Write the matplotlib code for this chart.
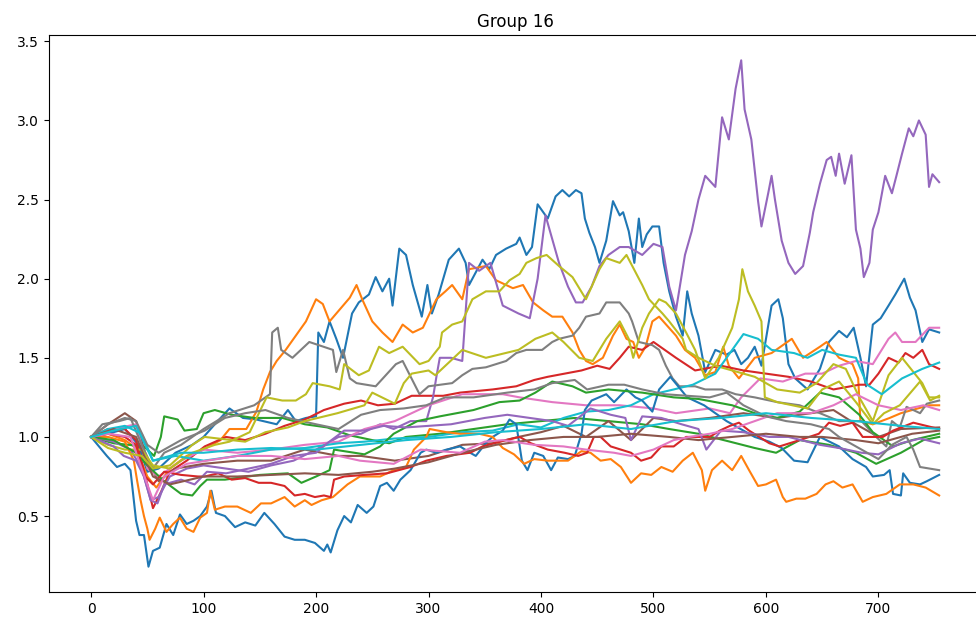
import numpy as np
import matplotlib
matplotlib.use("Agg")
import matplotlib.pyplot as plt

# (day, value) pairs, one list per series
blue_hi = [(0,1.0),(15,1.02),(30,1.05),(42,0.95),(50,0.78),(60,0.8),(75,0.9),(90,0.95),(100,1.0),(110,1.08),(123,1.18),(135,1.12),(147,1.11),(165,1.08),(175,1.17),(182,1.1),(191,1.12),(200,1.13),(202,1.66),(207,1.6),(212,1.73),(218,1.62),(224,1.5),(232,1.78),(238,1.85),(247,1.9),(253,2.01),(259,1.92),(265,2.0),(268,1.83),(274,2.19),(280,2.15),(286,1.96),(294,1.76),(299,1.96),(303,1.78),(309,1.9),(318,2.12),(327,2.19),(333,2.1),(336,1.96),(348,2.12),(354,2.06),(360,2.15),(369,2.19),(378,2.22),(381,2.26),(387,2.15),(392,2.2),(397,2.47),(406,2.38),(413,2.52),(419,2.56),(425,2.52),(431,2.56),(436,2.54),(439,2.38),(443,2.29),(448,2.2),(452,2.1),(458,2.24),(464,2.49),(470,2.4),(473,2.42),(478,2.3),(483,2.1),(487,2.38),(490,2.2),(494,2.28),(499,2.33),(505,2.33),(509,2.1),(514,1.92),(520,1.76),(526,1.64),(530,1.92),(534,1.78),(540,1.64),(546,1.41),(555,1.55),(565,1.52),(572,1.55),(578,1.46),(584,1.5),(590,1.57),(596,1.45),(605,1.83),(611,1.87),(615,1.75),(620,1.46),(626,1.37),(637,1.3),(648,1.43),(656,1.6),(665,1.67),(672,1.63),(678,1.69),(684,1.5),(689,1.32),(695,1.71),(702,1.75),(709,1.83),(715,1.9),(723,2.0),(728,1.88),(733,1.8),(739,1.6),(745,1.68),(754,1.66)]
orange_hi = [(0,1.0),(15,1.02),(30,0.98),(40,0.93),(50,0.75),(58,0.68),(70,0.8),(85,0.88),(100,0.92),(115,0.98),(123,1.05),(138,1.05),(147,1.16),(153,1.3),(159,1.41),(165,1.48),(173,1.55),(182,1.64),(191,1.73),(200,1.87),(206,1.84),(212,1.73),(224,1.83),(230,1.88),(236,1.96),(241,1.87),(250,1.73),(259,1.66),(268,1.6),(277,1.71),(286,1.66),(295,1.69),(301,1.78),(307,1.87),(315,1.92),(321,1.96),(330,1.87),(336,2.06),(351,2.08),(360,1.99),(375,1.94),(384,1.96),(393,1.85),(402,1.8),(410,1.76),(419,1.76),(428,1.66),(434,1.55),(440,1.48),(446,1.46),(455,1.5),(464,1.64),(470,1.71),(476,1.62),(482,1.6),(487,1.5),(493,1.57),(499,1.73),(505,1.76),(520,1.64),(528,1.55),(537,1.5),(546,1.39),(555,1.41),(562,1.57),(567,1.45),(576,1.37),(590,1.5),(605,1.53),(623,1.62),(633,1.5),(648,1.57),(654,1.6),(665,1.5),(677,1.46),(682,1.37),(684,1.1),(695,1.08),(710,1.12),(720,1.15),(735,1.18),(745,1.2),(754,1.2)]
green_a = [(0,1.0),(20,0.96),(47,0.94),(56,0.88),(62,1.0),(65,1.13),(77,1.11),(83,1.04),(94,1.05),(100,1.15),(110,1.17),(125,1.14),(145,1.12),(170,1.12),(190,1.08),(210,1.06),(230,1.01),(250,0.98),(265,0.96),(280,1.0),(310,1.02),(340,1.05),(370,1.08),(400,1.1),(430,1.12),(460,1.1),(490,1.08),(514,1.05),(540,1.02),(568,0.97),(590,0.93),(609,0.9),(630,0.98),(656,0.95),(680,0.9),(698,0.83),(720,0.9),(740,0.98),(754,1.0)]
red_hi = [(0,1.0),(15,1.05),(30,1.05),(40,0.98),(50,0.7),(55,0.55),(62,0.65),(70,0.78),(85,0.85),(101,0.94),(120,1.0),(137,0.98),(155,1.02),(172,1.07),(190,1.11),(207,1.17),(225,1.21),(240,1.23),(255,1.2),(270,1.21),(285,1.26),(313,1.26),(328,1.28),(357,1.3),(378,1.32),(394,1.36),(406,1.38),(421,1.4),(436,1.42),(450,1.45),(461,1.43),(470,1.5),(478,1.57),(490,1.55),(500,1.6),(510,1.55),(520,1.5),(537,1.42),(560,1.45),(580,1.42),(600,1.4),(620,1.38),(640,1.35),(660,1.3),(683,1.33),(692,1.33),(700,1.4),(709,1.5),(718,1.47),(724,1.53),(731,1.5),(739,1.55),(745,1.46),(754,1.43)]
purple_hi = [(0,1.0),(20,0.97),(35,0.92),(45,0.8),(53,0.6),(60,0.62),(70,0.75),(85,0.8),(100,0.82),(120,0.8),(140,0.78),(160,0.82),(180,0.85),(200,0.92),(220,1.0),(240,1.02),(257,1.08),(269,1.05),(284,1.1),(298,1.1),(304,1.25),(307,1.38),(310,1.5),(320,1.5),(330,1.48),(336,2.1),(345,2.05),(355,2.1),(366,1.83),(380,1.78),(390,1.75),(397,2.0),(404,2.4),(410,2.25),(416,2.1),(424,1.95),(431,1.85),(437,1.85),(445,1.95),(452,2.08),(460,2.15),(470,2.2),(478,2.2),(490,2.15),(500,2.22),(508,2.2),(514,1.95),(520,1.8),(528,2.15),(534,2.3),(540,2.5),(546,2.65),(555,2.58),(561,3.02),(567,2.88),(573,3.2),(578,3.38),(581,3.07),(587,2.88),(593,2.49),(596,2.33),(602,2.54),(605,2.65),(608,2.5),(614,2.24),(620,2.1),(626,2.03),(633,2.08),(639,2.29),(642,2.42),(648,2.6),(654,2.75),(658,2.77),(662,2.65),(665,2.79),(670,2.6),(676,2.78),(680,2.31),(684,2.19),(687,2.01),(692,2.1),(695,2.31),(700,2.42),(706,2.65),(712,2.54),(716,2.65),(721,2.79),(727,2.95),(731,2.9),(736,3.0),(742,2.91),(745,2.58),(748,2.66),(754,2.61)]
brown_a = [(0,1.0),(15,1.08),(30,1.15),(40,1.1),(50,0.85),(60,0.72),(75,0.8),(100,0.83),(130,0.85),(160,0.85),(190,0.92),(220,0.88),(240,0.88),(270,0.85),(300,0.88),(330,0.95),(357,0.96),(380,1.0),(400,1.03),(420,1.07),(440,1.0),(460,1.1),(480,0.98),(500,1.12),(520,1.1),(550,1.12),(580,1.15),(610,1.12),(640,1.15),(660,1.17),(680,1.08),(700,1.0),(720,1.05),(754,1.06)]
pink_hi = [(0,1.0),(20,1.05),(40,1.08),(50,0.8),(60,0.75),(80,0.85),(100,0.92),(130,0.9),(160,0.92),(190,0.95),(220,0.97),(243,1.05),(270,1.1),(300,1.2),(330,1.27),(366,1.27),(381,1.25),(410,1.22),(440,1.2),(470,1.2),(500,1.18),(520,1.15),(550,1.18),(568,1.15),(578,1.25),(595,1.37),(615,1.35),(635,1.4),(650,1.4),(665,1.45),(680,1.48),(695,1.46),(709,1.62),(715,1.66),(721,1.6),(733,1.6),(745,1.69),(754,1.69)]
gray_hi = [(0,1.0),(10,1.08),(25,1.1),(35,1.12),(45,0.95),(55,0.8),(65,0.9),(80,0.95),(100,1.05),(123,1.15),(145,1.2),(159,1.27),(161,1.66),(166,1.69),(169,1.55),(179,1.5),(194,1.6),(215,1.55),(218,1.41),(224,1.55),(230,1.37),(236,1.34),(253,1.32),(271,1.46),(277,1.48),(292,1.27),(300,1.32),(321,1.34),(330,1.39),(339,1.43),(351,1.44),(369,1.48),(378,1.53),(387,1.55),(401,1.55),(410,1.6),(416,1.62),(428,1.64),(434,1.69),(440,1.76),(452,1.78),(458,1.85),(470,1.85),(478,1.78),(481,1.73),(487,1.6),(499,1.58),(505,1.55),(511,1.45),(517,1.37),(523,1.32),(537,1.32),(546,1.3),(561,1.3),(573,1.27),(590,1.25),(610,1.22),(630,1.2),(648,1.15),(665,1.1),(685,1.1),(698,1.0),(707,0.94),(712,1.1),(719,1.06),(725,1.19),(737,1.15),(743,1.21),(754,1.23)]
olive_hi = [(0,1.0),(15,0.95),(30,0.92),(45,0.92),(55,0.82),(70,0.8),(90,0.9),(110,0.95),(123,0.97),(141,1.03),(156,1.25),(170,1.23),(182,1.23),(191,1.27),(197,1.34),(212,1.32),(221,1.3),(225,1.46),(238,1.39),(247,1.42),(256,1.57),(265,1.53),(277,1.57),(292,1.46),(300,1.48),(310,1.57),(312,1.66),(321,1.71),(330,1.73),(339,1.87),(351,1.92),(363,1.92),(372,1.99),(381,2.03),(387,2.1),(396,2.13),(405,2.15),(416,2.08),(428,2.01),(440,1.87),(452,2.06),(458,2.13),(470,2.1),(476,2.15),(490,1.96),(496,1.87),(508,1.78),(514,1.73),(526,1.62),(529,1.55),(540,1.5),(555,1.45),(570,1.42),(590,1.38),(610,1.3),(630,1.28),(645,1.34),(660,1.46),(671,1.43),(683,1.25),(695,1.1),(709,1.39),(721,1.5),(739,1.34),(745,1.25),(754,1.25)]
cyan_hi = [(0,1.0),(15,1.05),(30,1.07),(45,1.02),(55,0.85),(75,0.88),(100,0.85),(130,0.88),(160,0.92),(190,0.93),(220,0.96),(243,0.97),(270,0.99),(300,1.0),(330,1.03),(357,1.04),(380,1.08),(400,1.06),(420,1.12),(440,1.16),(460,1.17),(480,1.2),(500,1.27),(518,1.3),(535,1.33),(555,1.4),(565,1.5),(580,1.65),(593,1.62),(605,1.55),(625,1.53),(637,1.5),(650,1.55),(665,1.52),(680,1.5),(690,1.33),(703,1.27),(721,1.37),(739,1.43),(754,1.47)]
blue_lo = [(0,1.0),(14,0.88),(23,0.81),(30,0.83),(35,0.79),(40,0.47),(43,0.38),(47,0.38),(51,0.18),(55,0.28),(61,0.3),(67,0.45),(73,0.38),(79,0.51),(85,0.45),(91,0.47),(97,0.5),(103,0.56),(107,0.66),(111,0.52),(119,0.5),(128,0.43),(137,0.46),(146,0.44),(154,0.52),(163,0.45),(172,0.37),(181,0.35),(190,0.35),(199,0.33),(207,0.28),(210,0.32),(213,0.27),(219,0.41),(225,0.5),(231,0.46),(237,0.57),(245,0.52),(251,0.56),(257,0.69),(263,0.71),(269,0.66),(275,0.73),(284,0.79),(293,0.9),(298,0.92),(307,0.9),(316,0.92),(328,0.94),(337,0.9),(342,0.88),(352,0.97),(357,1.0),(366,1.04),(372,1.11),(378,1.08),(383,0.85),(388,0.79),(394,0.9),(402,0.88),(409,0.79),(415,0.87),(424,0.86),(430,0.88),(436,1.02),(439,1.17),(445,1.23),(458,1.27),(465,1.22),(476,1.3),(484,1.25),(490,1.23),(499,1.16),(505,1.3),(515,1.38),(530,1.25),(545,1.2),(565,1.1),(590,1.0),(603,0.97),(614,0.93),(625,0.85),(637,0.84),(648,1.0),(665,0.94),(677,0.86),(689,0.81),(695,0.75),(705,0.76),(710,0.79),(713,0.64),(720,0.63),(722,0.77),(728,0.71),(737,0.7),(743,0.72),(754,0.76)]
orange_lo = [(0,1.0),(15,1.0),(30,0.97),(38,0.85),(41,0.72),(44,0.6),(47,0.5),(50,0.42),(52,0.35),(57,0.42),(61,0.49),(67,0.4),(73,0.45),(79,0.49),(85,0.42),(91,0.4),(97,0.49),(103,0.52),(106,0.66),(110,0.54),(119,0.56),(130,0.56),(142,0.52),(151,0.58),(160,0.58),(172,0.62),(181,0.56),(190,0.6),(196,0.57),(205,0.6),(215,0.62),(228,0.7),(239,0.75),(257,0.75),(269,0.79),(280,0.81),(287,0.92),(298,1.0),(301,1.05),(316,1.03),(328,1.02),(345,1.02),(357,1.0),(366,0.93),(376,0.89),(385,0.83),(394,0.86),(406,0.85),(424,0.85),(436,0.91),(444,0.9),(453,0.85),(462,0.86),(471,0.81),(480,0.71),(489,0.77),(498,0.76),(507,0.81),(517,0.78),(526,0.85),(535,0.9),(543,0.79),(546,0.66),(552,0.79),(561,0.85),(570,0.79),(578,0.88),(585,0.79),(593,0.69),(600,0.7),(609,0.73),(615,0.62),(618,0.59),(627,0.61),(635,0.61),(645,0.64),(653,0.7),(660,0.72),(668,0.68),(677,0.7),(686,0.59),(695,0.62),(707,0.64),(719,0.7),(731,0.7),(742,0.68),(754,0.63)]
green_b = [(0,1.0),(20,0.98),(40,0.9),(50,0.82),(65,0.72),(80,0.64),(90,0.63),(97,0.69),(103,0.73),(119,0.73),(150,0.76),(175,0.77),(187,0.71),(200,0.75),(212,0.79),(216,0.92),(243,0.89),(257,0.94),(269,1.02),(290,1.1),(310,1.13),(340,1.17),(363,1.22),(381,1.23),(395,1.28),(410,1.35),(428,1.32),(440,1.28),(460,1.3),(490,1.28),(518,1.25),(540,1.24),(570,1.2),(590,1.15),(610,1.12),(630,1.16),(648,1.28),(665,1.25),(683,1.14),(695,1.03),(713,0.94),(730,0.98),(754,1.02)]
red_lo = [(0,1.0),(15,1.02),(30,1.0),(40,0.95),(48,0.75),(55,0.7),(65,0.78),(80,0.76),(95,0.75),(101,0.75),(113,0.77),(125,0.73),(137,0.74),(149,0.71),(160,0.71),(172,0.69),(181,0.63),(190,0.64),(199,0.62),(207,0.63),(213,0.62),(216,0.73),(225,0.75),(243,0.76),(263,0.77),(284,0.81),(298,0.85),(316,0.88),(337,0.9),(348,0.94),(369,0.98),(381,1.0),(391,0.96),(406,0.92),(421,0.9),(433,0.88),(441,0.9),(447,1.0),(453,1.0),(462,0.94),(480,0.9),(489,0.85),(498,0.87),(507,0.94),(518,0.94),(529,1.0),(550,1.0),(559,1.04),(568,1.07),(576,1.09),(585,1.04),(594,1.0),(603,0.96),(612,0.94),(630,0.98),(647,1.02),(656,1.09),(666,1.07),(677,1.09),(686,1.0),(704,1.0),(713,1.04),(731,1.09),(754,1.05)]
purple_lo = [(0,1.0),(20,0.94),(29,0.88),(40,0.85),(47,0.75),(53,0.6),(59,0.58),(65,0.7),(80,0.73),(92,0.7),(103,0.78),(120,0.77),(140,0.8),(160,0.83),(180,0.88),(200,0.9),(210,0.96),(225,1.04),(243,1.04),(260,1.07),(280,1.06),(300,1.07),(320,1.08),(350,1.12),(370,1.14),(390,1.12),(410,1.1),(424,1.07),(444,1.18),(462,1.14),(475,1.12),(480,0.98),(490,1.13),(507,1.12),(525,1.08),(540,1.05),(547,0.92),(560,1.04),(580,1.03),(603,1.0),(620,1.0),(648,0.95),(665,0.93),(685,0.9),(700,0.89),(720,0.96),(737,0.99),(754,0.96)]
brown_b = [(0,1.0),(20,1.05),(40,1.0),(55,0.75),(70,0.7),(100,0.75),(130,0.75),(160,0.76),(190,0.77),(220,0.76),(250,0.78),(270,0.8),(300,0.84),(330,0.9),(360,0.95),(390,0.98),(420,1.0),(450,1.0),(480,1.02),(514,1.0),(540,0.98),(570,1.0),(600,1.02),(630,1.0),(650,1.0),(680,0.98),(700,0.96),(730,1.02),(754,1.04)]
pink_lo = [(0,1.0),(15,1.02),(35,1.0),(45,0.8),(55,0.6),(65,0.75),(85,0.83),(103,0.85),(130,0.88),(160,0.88),(190,0.86),(220,0.88),(239,0.85),(269,0.83),(293,0.92),(328,0.9),(350,0.97),(366,0.98),(394,0.95),(420,0.94),(440,0.92),(465,0.9),(480,0.88),(500,0.92),(518,0.98),(532,1.0),(550,1.02),(570,1.05),(590,1.1),(610,1.15),(640,1.15),(660,1.2),(680,1.27),(700,1.2),(720,1.17),(740,1.2),(754,1.17)]
gray_lo = [(0,1.0),(15,1.08),(30,1.12),(40,1.1),(50,0.95),(60,0.9),(80,0.98),(101,1.04),(119,1.12),(137,1.15),(155,1.17),(175,1.12),(200,1.08),(220,1.05),(240,1.14),(257,1.17),(278,1.18),(298,1.2),(315,1.25),(340,1.25),(370,1.28),(394,1.3),(410,1.34),(430,1.36),(441,1.3),(460,1.33),(474,1.33),(490,1.3),(510,1.27),(530,1.26),(550,1.25),(565,1.28),(580,1.2),(600,1.13),(618,1.1),(640,1.08),(656,1.05),(665,1.0),(685,0.92),(700,0.86),(712,0.95),(725,1.0),(731,0.92),(737,0.81),(754,0.79)]
olive_lo = [(0,1.0),(15,0.93),(30,0.9),(45,0.88),(55,0.8),(70,0.82),(90,0.95),(101,1.0),(137,0.97),(155,1.03),(175,1.06),(190,1.1),(219,1.15),(243,1.2),(250,1.28),(270,1.21),(278,1.34),(285,1.4),(300,1.42),(306,1.39),(330,1.55),(351,1.5),(380,1.55),(395,1.62),(410,1.66),(420,1.6),(434,1.5),(446,1.48),(458,1.62),(470,1.73),(478,1.62),(482,1.5),(490,1.69),(496,1.78),(505,1.87),(511,1.85),(520,1.78),(529,1.66),(537,1.55),(546,1.37),(558,1.5),(570,1.69),(576,1.87),(579,2.06),(584,1.92),(590,1.83),(596,1.73),(599,1.25),(610,1.22),(637,1.18),(650,1.3),(665,1.35),(680,1.22),(695,1.08),(705,1.15),(719,1.2),(737,1.35),(746,1.23),(754,1.26)]
cyan_lo = [(0,1.0),(20,1.04),(40,1.07),(48,0.95),(55,0.85),(80,0.9),(100,0.9),(130,0.92),(160,0.93),(200,0.92),(240,0.95),(280,0.98),(320,1.0),(360,1.03),(400,1.05),(440,1.08),(480,1.05),(520,1.1),(560,1.12),(600,1.15),(640,1.12),(680,1.1),(720,1.07),(754,1.05)]

series = [blue_hi, orange_hi, green_a, red_hi, purple_hi, brown_a, pink_hi, gray_hi, olive_hi, cyan_hi,
          blue_lo, orange_lo, green_b, red_lo, purple_lo, brown_b, pink_lo, gray_lo, olive_lo, cyan_lo]

fig = plt.figure(figsize=(9.76, 6.26), dpi=100)
# the reference is cropped a little on the right, so the axes run past the edge
ax = fig.add_axes([0.0499, 0.0543, 0.9558, 0.8898])

for s in series:
    pts = np.array(s)
    ax.plot(pts[:, 0], pts[:, 1])

ax.set_title("Group 16")
fig.savefig("out.png", dpi=100)
